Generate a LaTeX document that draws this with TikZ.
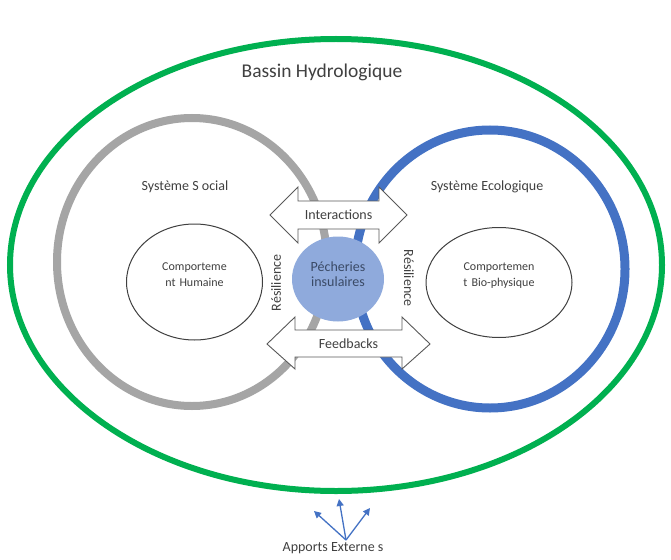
\documentclass[tikz,border=0pt]{standalone}
\usepackage{fontspec}
\setmainfont{Carlito}
\usetikzlibrary{arrows.meta}
\definecolor{basin}{HTML}{00B050}
\definecolor{social}{HTML}{A5A5A5}
\definecolor{eco}{HTML}{4472C4}
\definecolor{fish}{HTML}{8FAADC}
\definecolor{ink}{HTML}{404040}
\definecolor{fishink}{HTML}{3A4A66}
\definecolor{edge}{HTML}{595959}
\tikzset{
  ring/.style={line width=#1},
  inner/.style={draw=ink, line width=1pt},
  flow/.style={draw=edge, fill=white, line width=0.9pt, line join=miter},
  lbl/.style={text=ink, font=\fontsize{14}{15}\selectfont, align=center, inner sep=0pt},
  small/.style={lbl, font=\fontsize{12}{16}\selectfont},
  ext/.style={draw=eco, line width=1.3pt, -{Triangle[length=7pt,width=7pt]}},
}
\begin{document}
\begin{tikzpicture}[x=1pt,y=-1pt]
\useasboundingbox (0,0) rectangle (671,559);
\fill[white] (0,0) rectangle (671,559);

% watershed boundary
\draw[basin, ring=6pt] (336,265) ellipse [x radius=326, y radius=226];
\node[lbl, font=\fontsize{19.5}{22}\selectfont] (basin) at (322,72) {Bassin Hydrologique};

% social and ecological systems
\draw[social, ring=8pt] (192,262) ellipse [x radius=135, y radius=144];
\draw[eco, ring=9pt] (490,269) ellipse [x radius=135, y radius=139];

\node[lbl] (soc) at (185,187) {Système S ocial};
\node[lbl] (eco) at (487,187) {Système Ecologique};

\draw[inner] (194.5,282) ellipse [x radius=68, y radius=58];
\node[small, text width=70pt] (hum) at (194.5,275) {Comporteme\\nt Humaine};
\draw[inner] (499,282.5) ellipse [x radius=73, y radius=55];
\node[small, text width=80pt] (bio) at (499,276) {Comportemen\\t Bio-physique};

% two-way exchange arrows
\draw[flow] (270,215) -- (298,187) -- (298,201) -- (379,201) -- (379,187)
  -- (407,215) -- (379,243) -- (379,229) -- (298,229) -- (298,243) -- cycle;
\node[lbl] (inter) at (338.5,215) {Interactions};

\draw[flow] (267,344) -- (295,317) -- (295,330) -- (402,330) -- (402,317)
  -- (430,344) -- (402,369) -- (402,357) -- (295,357) -- (295,369) -- cycle;
\node[lbl] (feed) at (348.5,344) {Feedbacks};

% island fisheries at the centre
\fill[fish] (338,279) ellipse [x radius=46, y radius=42.5];
\node[lbl, text=fishink] (fishnode) at (338,274) {Pécheries\\insulaires};

\node[lbl, rotate=90] (resl) at (276,283) {Résilience};
\node[lbl, rotate=-90] (resr) at (409,278) {Résilience};

% external inputs
\node[lbl] (apports) at (333,548) {Apports Externe s};
\coordinate (src) at (346,540);
\coordinate (t1) at (314,511);
\coordinate (t2) at (339,499);
\coordinate (t3) at (370,508);
\draw[ext] (src) -- (t1);
\draw[ext] (src) -- (t2);
\draw[ext] (src) -- (t3);
\end{tikzpicture}
\end{document}
